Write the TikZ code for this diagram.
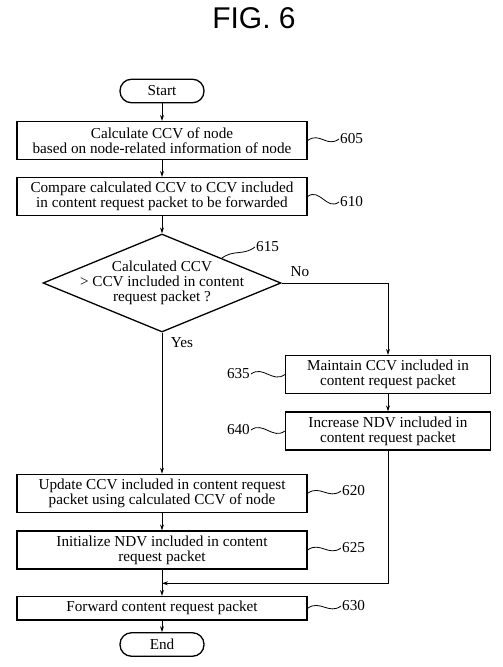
\documentclass[tikz,border=0pt]{standalone}
\usepackage{fontspec}
\setmainfont{Liberation Serif}
\newfontfamily\titlefont{Liberation Sans}
\usetikzlibrary{shapes.geometric,arrows.meta,calc}
\begin{document}
\begin{tikzpicture}[x=1pt,y=-1pt,
  every node/.style={font=\fontsize{15.2}{15}\selectfont},
  procbox/.style={draw,line width=1.3pt,minimum width=290pt,minimum height=38pt,align=center,inner sep=0pt},
  sidebox/.style={draw,line width=1.3pt,minimum width=205pt,minimum height=38pt,align=center,inner sep=0pt},
  term/.style={draw,line width=1.3pt,rounded corners=11.5pt,minimum width=84pt,minimum height=23.5pt,inner sep=0pt},
  flow/.style={line width=0.9pt,-{Stealth[length=6pt,width=4pt]}},
  plain/.style={line width=0.9pt},
  squig/.style={line width=0.8pt},
  reflabel/.style={inner sep=1pt}
]
\useasboundingbox (0,0) rectangle (503,667);
\node[font=\titlefont\fontsize{30}{32}\selectfont] (title) at (254,18) {FIG. 6};

\node[term] (start) at (162,91) {Start};
\node[procbox] (b605) at (162,140.5) {Calculate CCV of node\\based on node-related information of node};
\node[procbox] (b610) at (162,196.5) {Compare calculated CCV to CCV included\\in content request packet to be forwarded};
\node[diamond,draw,line width=1.3pt,minimum width=238pt,minimum height=98pt,inner sep=0pt] (d615) at (162,283) {};
\node[align=center,inner sep=0pt] (d615t) at (d615.center) {Calculated CCV\\> CCV included in content\\request packet ?};
\node[sidebox] (b635) at (388,374.5) {Maintain CCV included in\\content request packet};
\node[sidebox] (b640) at (388,431) {Increase NDV included in\\content request packet};
\node[procbox] (b620) at (162,493.3) {Update CCV included in content request\\packet using calculated CCV of node};
\node[procbox] (b625) at (162,550) {Initialize NDV included in content\\request packet};
\node[procbox,minimum height=23.5pt] (b630) at (162,608.3) {Forward content request packet};
\node[term] (end) at (162,644.5) {End};

% reference labels
\node[reflabel,anchor=west] (l605) at (339,139) {605};
\node[reflabel,anchor=west] (l610) at (339,202) {610};
\node[reflabel,anchor=west] (l615) at (255,247) {615};
\node[reflabel,anchor=east] (l635) at (251,374) {635};
\node[reflabel,anchor=east] (l640) at (251,430) {640};
\node[reflabel,anchor=west] (l620) at (341,491) {620};
\node[reflabel,anchor=west] (l625) at (341,548) {625};
\node[reflabel,anchor=west] (l630) at (341,606) {630};

\node[inner sep=1pt] (no) at (300,272) {No};
\node[inner sep=1pt] (yes) at (182,343) {Yes};

\coordinate (q615) at ($(d615.north)!0.5!(d615.east)$);
\coordinate (merge) at (162,583.3);

% squiggles
\draw[squig] (b605.east) .. controls +(12,-9) and +(-12,9) .. (l605.west);
\draw[squig] (b610.east) .. controls +(12,-9) and +(-12,9) .. (l610.west);
\draw[squig] (q615) .. controls +(12,-9) and +(-12,9) .. (l615.west);
\draw[squig] (l635.east) .. controls +(12,-9) and +(-12,9) .. (b635.west);
\draw[squig] (l640.east) .. controls +(12,-9) and +(-12,9) .. (b640.west);
\draw[squig] (b620.east) .. controls +(12,-9) and +(-12,9) .. (l620.west);
\draw[squig] (b625.east) .. controls +(12,-9) and +(-12,9) .. (l625.west);
\draw[squig] (b630.east) .. controls +(12,-9) and +(-12,9) .. (l630.west);

% connectors
\draw[flow] (start) -- (b605);
\draw[flow] (b605) -- (b610);
\draw[flow] (b610) -- (d615.north);
\draw[flow] (d615.south) -- (b620.north);
\draw[flow] (d615.east) -| (b635.north);
\draw[flow] (b635) -- (b640);
\draw[flow] (b640.south) |- (merge);
\draw[flow] (b620) -- (b625);
\draw[flow] (b625) -- (b630);
\draw[flow] (b630) -- (end);
\end{tikzpicture}
\end{document}
